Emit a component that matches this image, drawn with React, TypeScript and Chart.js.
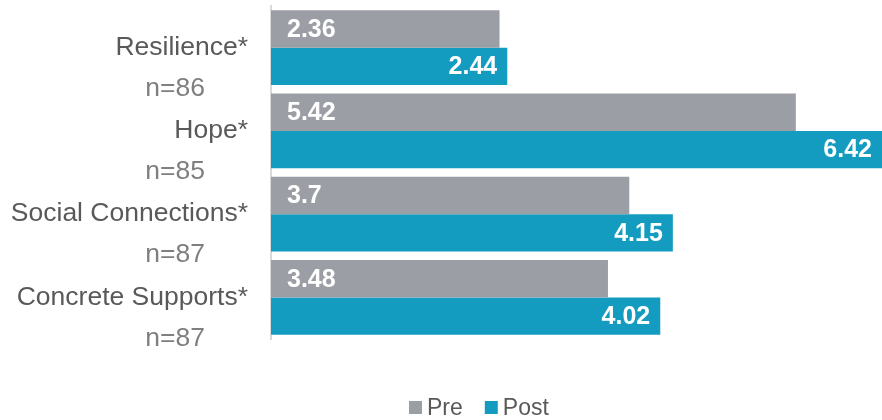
import React, { useEffect, useRef } from "react";
import { Chart, registerables } from "chart.js";

Chart.register(...registerables);

const categories = ["Resilience*", "Hope*", "Social Connections*", "Concrete Supports*"];
const sampleSizes = ["n=86", "n=85", "n=87", "n=87"];
const preValues = [2.36, 5.42, 3.7, 3.48];
const postValues = [2.44, 6.42, 4.15, 4.02];
const seriesNames = ["Pre", "Post"];
const seriesColors = ["#9b9ea5", "#139cbf"];

const FONT = "'Liberation Sans', Arial, sans-serif";

const customPlugin = {
  id: "customDraw",
  afterDatasetsDraw(chart: any) {
    const ctx = chart.ctx;
    const area = chart.chartArea;
    ctx.save();
    ctx.font = `bold 25px ${FONT}`;
    ctx.fillStyle = "#ffffff";
    ctx.textBaseline = "middle";
    chart.data.datasets.forEach((ds: any, di: number) => {
      const meta = chart.getDatasetMeta(di);
      meta.data.forEach((bar: any, i: number) => {
        const text = String(ds.data[i]);
        if (di === 0) {
          ctx.textAlign = "left";
          ctx.fillText(text, area.left + 16, bar.y + 1);
        } else {
          ctx.textAlign = "right";
          ctx.fillText(text, Math.min(bar.x, area.right) - 10, bar.y + 1);
        }
      });
    });
    // category labels
    const yScale = chart.scales.y;
    ctx.font = `26.5px ${FONT}`;
    ctx.textAlign = "right";
    categories.forEach((c, i) => {
      const y = yScale.getPixelForValue(i);
      ctx.fillStyle = "#595959";
      ctx.fillText(c, 248, y);
      ctx.fillStyle = "#7f7f7f";
      ctx.fillText(sampleSizes[i], 205, y + 41);
    });
    // legend
    ctx.font = `23px ${FONT}`;
    ctx.textAlign = "left";
    const ly = 407.5;
    let x = 409;
    chart.data.datasets.forEach((ds: any, di: number) => {
      ctx.fillStyle = ds.backgroundColor;
      ctx.fillRect(x, ly - 6.5, 13, 13);
      ctx.fillStyle = "#595959";
      ctx.fillText(ds.label, x + 18, ly + 1);
      x += 18 + ctx.measureText(ds.label).width + 22;
    });
    ctx.restore();
  },
};

export default function App() {
  const ref = useRef<HTMLCanvasElement>(null);
  useEffect(() => {
    if (!ref.current) return;
    const chart = new Chart(ref.current, {
      type: "bar",
      data: {
        labels: categories,
        datasets: [
          {
            label: seriesNames[0],
            data: preValues,
            backgroundColor: seriesColors[0],
            borderWidth: 0,
            categoryPercentage: 0.9,
            barPercentage: 1.0,
          },
          {
            label: seriesNames[1],
            data: postValues,
            backgroundColor: seriesColors[1],
            borderWidth: 0,
            categoryPercentage: 0.9,
            barPercentage: 1.0,
          },
        ],
      },
      options: {
        indexAxis: "y",
        animation: false,
        responsive: false,
        maintainAspectRatio: false,
        layout: { padding: { left: 271, top: 6, bottom: 81, right: 0 } },
        plugins: { legend: { display: false }, tooltip: { enabled: false } },
        scales: {
          x: { display: false, min: 0, max: 6.31 },
          y: {
            display: true,
            grid: { display: false, drawTicks: false },
            ticks: { display: false },
            border: { display: true, color: "#d9d9d9", width: 2 },
          },
        },
      },
      plugins: [customPlugin],
    });
    return () => chart.destroy();
  }, []);
  return (
    <div style={{ position: "fixed", left: 0, top: 0, width: 882, height: 420, background: "#fff" }}>
      <canvas ref={ref} width={882} height={420} style={{ width: 882, height: 420 }} />
    </div>
  );
}
